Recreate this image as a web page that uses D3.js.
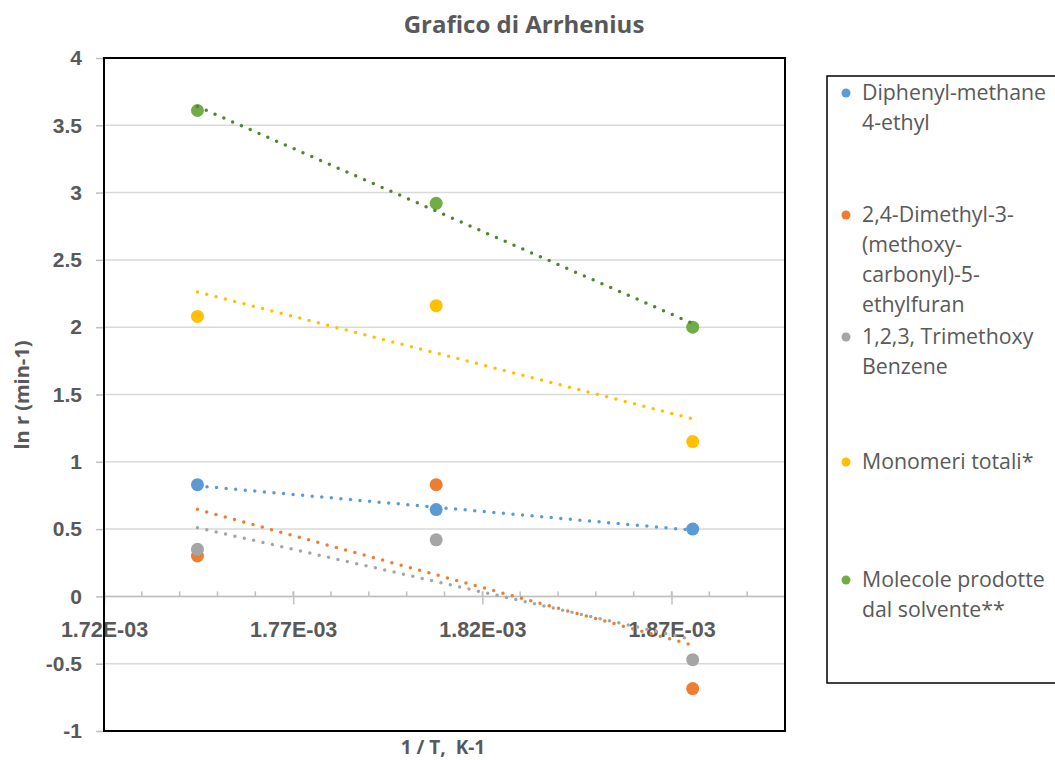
<!DOCTYPE html>
<html>
<head>
<meta charset="utf-8">
<title>Grafico di Arrhenius</title>
<script src="https://d3js.org/d3.v7.min.js"></script>
<style>
  body { margin: 0; background: #fff; }
  svg { display: block; font-family: "Open Sans", "Liberation Sans", sans-serif; }
</style>
</head>
<body>
<svg id="chart"></svg>
<script>
// data
const invT = [1.7447e-3, 1.8078e-3, 1.8756e-3];   // 1/T, K-1
const seriesNames = [
  ["Diphenyl-methane", "4-ethyl"],
  ["2,4-Dimethyl-3-", "(methoxy-", "carbonyl)-5-", "ethylfuran"],
  ["1,2,3, Trimethoxy", "Benzene"],
  ["Monomeri totali*"],
  ["Molecole prodotte", "dal solvente**"]
];
const diphenyl = [0.83, 0.645, 0.50];
const dimethylFuran = [0.30, 0.83, -0.685];
const trimethoxy = [0.35, 0.42, -0.47];
const monomeri = [2.08, 2.16, 1.15];
const molecole = [3.61, 2.92, 2.00];
const seriesValues = [diphenyl, dimethylFuran, trimethoxy, monomeri, molecole];
const colors = ["#5B9BD5", "#ED7D31", "#A5A5A5", "#FFC000", "#70AD47"];
const trendColors = ["#5B9BD5", "#ED7D31", "#A5A5A5", "#FFC000", "#548235"];

const xMajorTicks = [1.72e-3, 1.77e-3, 1.82e-3, 1.87e-3];
const yTicks = [-1, -0.5, 0, 0.5, 1, 1.5, 2, 2.5, 3, 3.5, 4];

const width = 1055, height = 760;
const plot = { left: 104, right: 785, top: 58, bottom: 731 };
const textColor = "#595959";

const svg = d3.select("#chart").attr("width", width).attr("height", height);

const x = d3.scaleLinear().domain([1.72e-3, 1.90e-3]).range([plot.left, plot.right]);
const y = d3.scaleLinear().domain([-1, 4]).range([plot.bottom, plot.top]);

// horizontal gridlines
svg.append("g")
  .selectAll("line")
  .data(yTicks)
  .join("line")
  .attr("x1", plot.left).attr("x2", plot.right)
  .attr("y1", d => y(d)).attr("y2", d => y(d))
  .attr("stroke", "#D9D9D9").attr("stroke-width", 1.5);

// y axis (ticks outside the plot)
const yAxis = svg.append("g")
  .attr("transform", `translate(${plot.left},0)`)
  .call(d3.axisLeft(y).tickValues(yTicks).tickSize(8).tickPadding(14).tickFormat(d => String(d)));
yAxis.select(".domain").remove();
yAxis.selectAll(".tick line").attr("stroke", "#BFBFBF").attr("stroke-width", 1.5);
yAxis.selectAll(".tick text")
  .attr("fill", textColor).style("font-size", "21px").style("font-weight", "bold");

// x axis crossing at y = 0
const fmtX = v => {
  const [m, e] = v.toExponential(2).split("e");
  const n = Math.abs(+e);
  return m + "E" + (+e < 0 ? "-" : "+") + (n < 10 ? "0" : "") + n;
};
const xAxis = svg.append("g")
  .attr("transform", `translate(0,${y(0)})`)
  .call(d3.axisBottom(x).tickValues(xMajorTicks).tickSize(8).tickFormat(fmtX));
xAxis.select(".domain").remove();
xAxis.selectAll(".tick line").attr("y1", -5).attr("y2", 8)
  .attr("stroke", "#BFBFBF").attr("stroke-width", 1.5);
xAxis.selectAll(".tick text")
  .attr("y", 33).attr("dy", "0.35em")
  .attr("fill", textColor).style("font-size", "21.5px").style("font-weight", "bold");

// minor ticks
const minorTicks = d3.range(0, 19).map(i => 1.72e-3 + i * 0.01e-3);
svg.append("g")
  .selectAll("line")
  .data(minorTicks)
  .join("line")
  .attr("x1", d => x(d)).attr("x2", d => x(d))
  .attr("y1", y(0) - 5).attr("y2", y(0))
  .attr("stroke", "#BFBFBF").attr("stroke-width", 1.5);

svg.append("line")
  .attr("x1", plot.left).attr("x2", plot.right)
  .attr("y1", y(0)).attr("y2", y(0))
  .attr("stroke", "#BFBFBF").attr("stroke-width", 1.5);

// points
seriesValues.forEach((vals, i) => {
  svg.append("g")
    .selectAll("circle")
    .data(vals)
    .join("circle")
    .attr("cx", (d, j) => x(invT[j]))
    .attr("cy", d => y(d))
    .attr("r", 6.5)
    .attr("fill", colors[i]);
});

// linear trendlines (least squares)
seriesValues.forEach((vals, i) => {
  const mx = d3.mean(invT), my = d3.mean(vals);
  const sxy = d3.sum(invT, (t, j) => (t - mx) * (vals[j] - my));
  const sxx = d3.sum(invT, t => (t - mx) * (t - mx));
  const slope = sxy / sxx;
  const fit = t => my + slope * (t - mx);
  const ends = [invT[0], invT[invT.length - 1]];
  svg.append("line")
    .attr("x1", x(ends[0])).attr("y1", y(fit(ends[0])))
    .attr("x2", x(ends[1])).attr("y2", y(fit(ends[1])))
    .attr("stroke", trendColors[i])
    .attr("stroke-width", 3.5)
    .attr("stroke-linecap", "round")
    .attr("stroke-dasharray", "0 9.6");
});

// plot border
svg.append("rect")
  .attr("x", plot.left).attr("y", plot.top)
  .attr("width", plot.right - plot.left).attr("height", plot.bottom - plot.top)
  .attr("fill", "none").attr("stroke", "#000").attr("stroke-width", 2);

// title
svg.append("text")
  .attr("x", 524).attr("y", 25).attr("dy", "0.35em")
  .attr("text-anchor", "middle")
  .attr("fill", textColor)
  .style("font-size", "24px").style("font-weight", "bold")
  .text("Grafico di Arrhenius");

// axis titles
svg.append("text")
  .attr("transform", "translate(22,395) rotate(-90)")
  .attr("dy", "0.35em")
  .attr("text-anchor", "middle")
  .attr("fill", textColor)
  .style("font-size", "20px").style("font-weight", "bold")
  .text("ln r (min-1)");

svg.append("text")
  .attr("x", 443).attr("y", 747).attr("dy", "0.35em")
  .attr("text-anchor", "middle")
  .attr("fill", textColor)
  .style("font-size", "19px").style("font-weight", "bold")
  .style("white-space", "pre")
  .text("1 / T,  K-1");

// legend
const legend = svg.append("g");
legend.append("rect")
  .attr("x", 827).attr("y", 76).attr("width", 260).attr("height", 607)
  .attr("fill", "#fff").attr("stroke", "#000").attr("stroke-width", 1.5);

const legendTop = [93, 215, 337, 462, 580];
seriesNames.forEach((lines, i) => {
  const g = legend.append("g").attr("transform", `translate(0,${legendTop[i]})`);
  g.append("circle").attr("cx", 846).attr("cy", 0).attr("r", 4.5).attr("fill", colors[i]);
  g.append("text")
    .attr("x", 862).attr("y", 0)
    .attr("fill", textColor)
    .style("font-size", "21.3px")
    .selectAll("tspan")
    .data(lines)
    .join("tspan")
    .attr("x", 862)
    .attr("y", (d, j) => j * 30)
    .attr("dy", "0.35em")
    .text(d => d);
});
</script>
</body>
</html>
